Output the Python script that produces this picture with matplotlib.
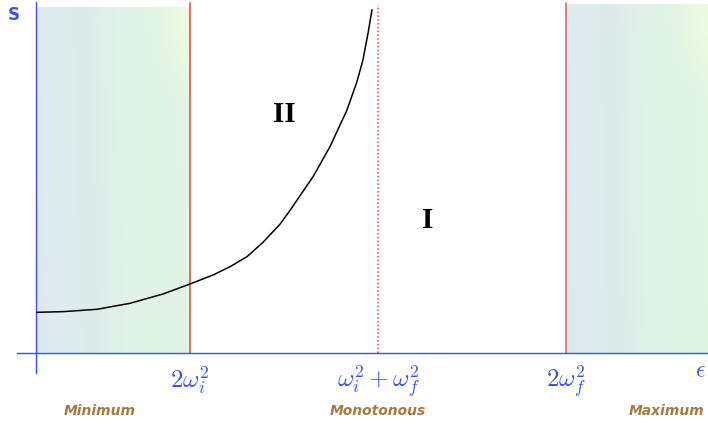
import matplotlib.pyplot as plt
import numpy as np

plt.rcParams["mathtext.fontset"] = "cm"

# positions on the epsilon axis (w_i^2 = 1, w_f^2 = 3)
eps_marks = [2.0, 4.0, 6.0]
eps_labels = [r"$2\omega_i^2$", r"$\omega_i^2+\omega_f^2$", r"$2\omega_f^2$"]
phase_names = ["Minimum", "Monotonous", "Maximum"]

# S(epsilon) curve
curve_eps = [0.372, 0.649, 1.011, 1.362, 1.713, 2.000, 2.245, 2.426, 2.606, 2.777,
             2.957, 3.064, 3.138, 3.309, 3.489, 3.670, 3.777, 3.840, 3.894, 3.936]
curve_s = [1.176, 1.194, 1.263, 1.436, 1.705, 1.994, 2.254, 2.494, 2.783, 3.200,
           3.720, 4.120, 4.416, 5.095, 5.962, 7.020, 7.850, 8.468, 9.240, 9.913]

blue = "#3d4ff0"
red = "#e8453c"
brown = "#a67a40"

x_left, x_right = -0.0213, 7.511
y_bot, y_top = -2.197, 10.202
x0 = 0.362  # where the S axis sits


def gradient(nx=200, ny=200):
    u = np.linspace(0, 1, nx)[None, :]
    t = np.linspace(0, 1, ny)[:, None]  # 0 bottom, 1 top
    w = np.clip(u + 0.065 * t, 0, 1)
    c0 = np.array([221, 233, 240]) / 255.0
    c1 = np.array([226, 246, 228]) / 255.0
    img = c0[None, None, :] * (1 - w[..., None]) + c1[None, None, :] * w[..., None]
    # faint stripes
    stripe = 0.005 * np.sin(w * 12.0)
    img = img + stripe[..., None]
    # yellowish glow in the top right corner
    d = np.sqrt((1 - u) ** 2 + (1 - t) ** 2)
    glow = np.clip(1 - d / 0.3, 0, 1)[..., None] * 0.8
    yel = np.array([242, 252, 222]) / 255.0
    img = img * (1 - glow) + yel[None, None, :] * glow
    return np.clip(img, 0, 1)


fig = plt.figure(figsize=(7.08, 4.29), dpi=100)
ax = fig.add_axes([0, 0, 1, 1])
ax.set_xlim(x_left, x_right)
ax.set_ylim(y_bot, y_top)
ax.axis("off")

# shaded regions
ax.imshow(gradient(), extent=[0.372, eps_marks[0], 0, 10.0], origin="lower",
          aspect="auto", zorder=0)
ax.imshow(gradient(), extent=[eps_marks[2], x_right, 0, 10.06], origin="lower",
          aspect="auto", zorder=0)

# axes lines
ax.plot([x0, x0], [-0.578, 10.14], color=blue, lw=1.0, zorder=3)
ax.plot([0.16, x_right], [0, 0], color=blue, lw=1.0, zorder=3)

# boundaries
ax.plot([eps_marks[0]] * 2, [0, 10.12], color=red, lw=1.1, zorder=2)
ax.plot([eps_marks[2]] * 2, [0, 10.12], color="#d9606a", lw=1.1, zorder=2)
ax.plot([eps_marks[1]] * 2, [0, 10.06], color=red, lw=1.1, ls=(0, (1, 1.5)), zorder=2)

# curve
ax.plot(curve_eps, curve_s, color="black", lw=1.1, zorder=4,
        solid_joinstyle="round")

# labels
ax.text(0.128, 9.77, "S", color=blue, fontsize=12, fontweight="bold",
        ha="center", va="center")
ax.text(7.426, -0.49, r"$\epsilon$", color=blue, fontsize=17,
        ha="center", va="center")
for x, lab in zip(eps_marks, eps_labels):
    ax.text(x, -0.82, lab, color=blue, fontsize=18, ha="center", va="center")

name_x = [(100 - 2) / 94, eps_marks[1], (667 - 2) / 94]
for x, name in zip(name_x, phase_names):
    ax.text(x, -1.69, name, color=brown, fontsize=10, fontstyle="italic",
            fontweight="bold", ha="center", va="center")

ax.text(2.999, 6.88, "II", fontsize=21, family="Liberation Serif",
        fontweight="bold", ha="center", va="center")
ax.text(4.532, 3.84, "I", fontsize=21, family="Liberation Serif",
        fontweight="bold", ha="center", va="center")

fig.savefig("out.png", dpi=100)
